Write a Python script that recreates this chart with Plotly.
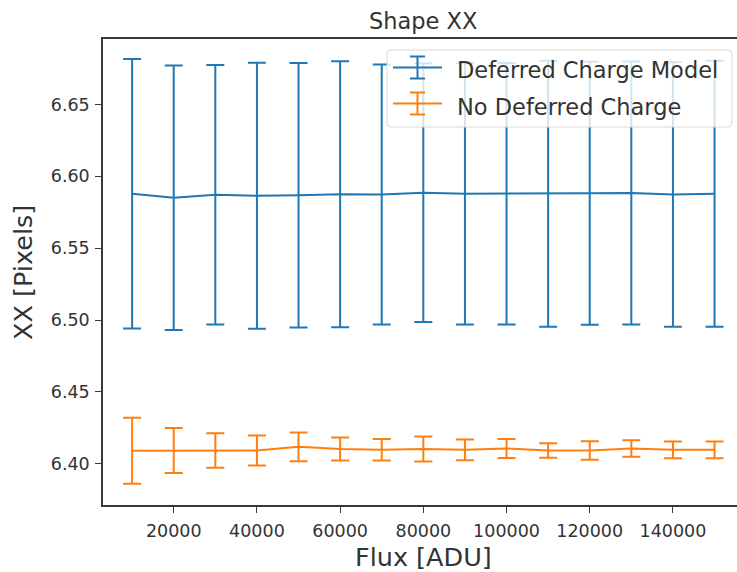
import plotly.graph_objects as go

# Flux levels [ADU]
flux = [10000, 20000, 30000, 40000, 50000, 60000, 70000, 80000,
        90000, 100000, 110000, 120000, 130000, 140000, 150000]

# Shape XX with the deferred charge model applied
dc_xx = [6.5878, 6.5850, 6.5871, 6.5864, 6.5868, 6.5875, 6.5873, 6.5886,
         6.5878, 6.5878, 6.5878, 6.5882, 6.5884, 6.5873, 6.5878]
dc_err = [0.0937, 0.0920, 0.0903, 0.0925, 0.0920, 0.0925, 0.0905, 0.0900,
          0.0910, 0.0910, 0.0925, 0.0915, 0.0915, 0.0920, 0.0925]

# Shape XX without deferred charge correction
nodc_xx = [6.4090, 6.4092, 6.4092, 6.4092, 6.4118, 6.4103, 6.4097, 6.4102,
           6.4097, 6.4106, 6.4092, 6.4092, 6.4106, 6.4097, 6.4097]
nodc_err = [0.0230, 0.0157, 0.0120, 0.0105, 0.0100, 0.0080, 0.0075, 0.0087,
            0.0072, 0.0066, 0.0050, 0.0064, 0.0058, 0.0058, 0.0058]

series_names = ["Deferred Charge Model", "No Deferred Charge"]
colors = ["#1f77b4", "#ff7f0e"]

x_ticks = [20000, 40000, 60000, 80000, 100000, 120000, 140000]
y_ticks = [6.40, 6.45, 6.50, 6.55, 6.60, 6.65]

W, H = 737, 572
L, R, T, B = 103, 0, 39, 67
PW, PH = W - L - R, H - T - B
FONT = "DejaVu Sans"
TXT = "#333333"
AX = "#3a3a3a"


def px_x(p):
    return (p - L) / PW


def px_y(p):
    return (H - B - p) / PH


fig = go.Figure()
for name, ys, errs, col in [(series_names[0], dc_xx, dc_err, colors[0]),
                            (series_names[1], nodc_xx, nodc_err, colors[1])]:
    fig.add_trace(go.Scatter(
        x=flux, y=ys, name=name, mode="lines",
        line=dict(color=col, width=2),
        error_y=dict(type="data", array=errs, visible=True,
                     color=col, thickness=2, width=9),
        showlegend=False,
    ))

# legend box with rounded corners
lx0, lx1, ly0, ly1 = px_x(387), px_x(732), px_y(50), px_y(127)
rx, ry = 4 / PW, 4 / PH
path = (f"M {lx0+rx},{ly0} L {lx1-rx},{ly0} Q {lx1},{ly0} {lx1},{ly0-ry} "
        f"L {lx1},{ly1+ry} Q {lx1},{ly1} {lx1-rx},{ly1} "
        f"L {lx0+rx},{ly1} Q {lx0},{ly1} {lx0},{ly1+ry} "
        f"L {lx0},{ly0-ry} Q {lx0},{ly0} {lx0+rx},{ly0} Z")
shapes = [dict(type="path", path=path, xref="paper", yref="paper",
               fillcolor="rgba(255,255,255,0.8)",
               line=dict(color="#d9d9d9", width=1), layer="above")]

annotations = []
for i, (name, col) in enumerate(zip(series_names, colors)):
    cy = 67.5 + 36 * i
    shapes.append(dict(type="line", xref="paper", yref="paper",
                       x0=px_x(393), x1=px_x(442), y0=px_y(cy), y1=px_y(cy),
                       line=dict(color=col, width=2), layer="above"))
    shapes.append(dict(type="line", xref="paper", yref="paper",
                       x0=px_x(417.5), x1=px_x(417.5),
                       y0=px_y(cy - 11), y1=px_y(cy + 11),
                       line=dict(color=col, width=2), layer="above"))
    for dy in (-11, 11):
        shapes.append(dict(type="line", xref="paper", yref="paper",
                           x0=px_x(410), x1=px_x(425),
                           y0=px_y(cy + dy), y1=px_y(cy + dy),
                           line=dict(color=col, width=2), layer="above"))
    annotations.append(dict(text=name, xref="paper", yref="paper",
                            x=px_x(455), y=px_y(cy + 3),
                            xanchor="left", yanchor="middle", showarrow=False,
                            font=dict(family=FONT, size=22.5, color=TXT)))

annotations += [
    dict(text="Shape XX", xref="paper", yref="paper", x=px_x(423), y=px_y(21.5),
         xanchor="center", yanchor="middle", showarrow=False,
         font=dict(family=FONT, size=22.5, color=TXT)),
    dict(text="Flux [ADU]", xref="paper", yref="paper", x=px_x(423), y=px_y(557),
         xanchor="center", yanchor="middle", showarrow=False,
         font=dict(family=FONT, size=25.5, color=TXT)),
    dict(text="XX [Pixels]", xref="paper", yref="paper", x=px_x(23), y=px_y(273),
         xanchor="center", yanchor="middle", showarrow=False, textangle=-90,
         font=dict(family=FONT, size=25.5, color=TXT)),
]

fig.update_layout(
    width=W, height=H,
    margin=dict(l=L, r=R, t=T, b=B, pad=0),
    paper_bgcolor="white", plot_bgcolor="white",
    font=dict(family=FONT, color=TXT),
    shapes=shapes, annotations=annotations,
)
fig.update_xaxes(range=[3000, 155400], tickvals=x_ticks,
                 ticktext=[str(v) for v in x_ticks],
                 showgrid=False, zeroline=False,
                 showline=True, linecolor=AX, linewidth=1.5, mirror=True,
                 ticks="outside", ticklen=6, tickwidth=1.2, tickcolor=AX,
                 ticklabelstandoff=3,
                 tickfont=dict(family=FONT, size=17.5, color=TXT))
fig.update_yaxes(range=[6.3713, 6.6955], tickvals=y_ticks,
                 ticktext=[f"{v:.2f}" for v in y_ticks],
                 showgrid=False, zeroline=False,
                 showline=True, linecolor=AX, linewidth=1.5,
                 ticks="outside", ticklen=6, tickwidth=1.2, tickcolor=AX,
                 ticklabelstandoff=2,
                 tickfont=dict(family=FONT, size=17.5, color=TXT))

fig.write_html("out.html")
